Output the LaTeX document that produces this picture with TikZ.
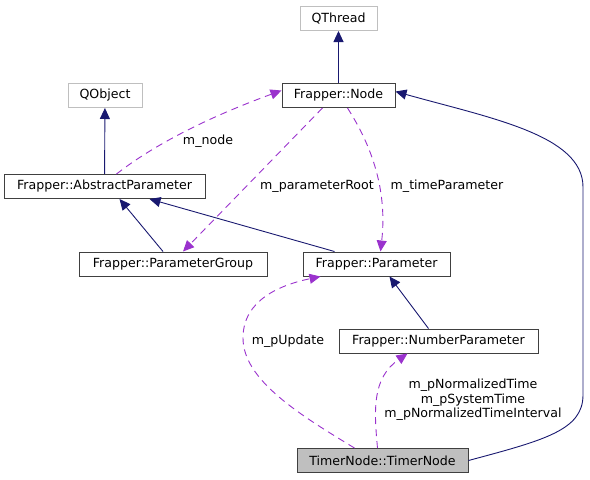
\documentclass[tikz,border=0pt]{standalone}
\usepackage{fontspec}
\setmainfont{DejaVu Sans}
\usepackage{tikz}
\usetikzlibrary{arrows.meta}
\usetikzlibrary{calc}

\definecolor{edgeblue}{HTML}{191970}
\definecolor{usepurple}{HTML}{9A32CD}
\definecolor{extgray}{HTML}{BFBFBF}

\tikzset{
  cls/.style={draw=black!75,line width=1pt,minimum height=24pt,inner sep=2pt,font=\fontsize{12.6}{14}\selectfont},
  ext/.style={cls,draw=extgray},
  inherit/.style={draw=edgeblue,line width=0.9pt,-{Triangle[length=11pt,width=10pt]}},
  uses/.style={draw=usepurple,line width=0.9pt,dash pattern=on 7pt off 5pt,-{Triangle[length=11pt,width=10pt]}},
  lbl/.style={font=\fontsize{12.6}{14}\selectfont,inner sep=1pt}
}

\begin{document}
\begin{tikzpicture}[x=1pt,y=-1pt]
            \useasboundingbox (0,0) rectangle (590,480);

            \node[ext,minimum width=77pt](qthread) at (338.5,18.5){QThread};
            \node[cls,minimum width=113pt](node) at (338.5,95.5){Frapper::Node};
            \node[ext,minimum width=74pt](qobject) at (105,95.5){QObject};
            \node[cls,minimum width=201pt](absparam) at (104.5,186.5){Frapper::AbstractParameter};
            \node[cls,minimum width=188pt](pgroup) at (173,264){Frapper::ParameterGroup};
            \node[cls,minimum width=147pt](param) at (376.5,264){Frapper::Parameter};
            \node[cls,minimum width=199pt](numparam) at (438.5,341){Frapper::NumberParameter};
            \node[cls,fill=extgray,minimum width=171pt](timer) at (382.5,460.5){TimerNode::TimerNode};

            \draw[inherit](node)--(qthread);
            \draw[inherit](absparam)--(qobject);
            \draw[inherit]([xshift=-10pt]pgroup.north)--([xshift=15pt]absparam.south);
            \draw[inherit]([xshift=-42pt]param.north)--([xshift=45pt]absparam.south);
            \draw[inherit]([xshift=-10pt]numparam.north)--([xshift=13pt]param.south);
            \draw[inherit](timer.east)..controls(545,440)and(583,430)..(583,395)
                --(583,187)..controls(583,135)and(490,118)..([yshift=4pt]node.east);

            \draw[uses]([xshift=12pt]absparam.north)..controls(160,140)and(220,113)..([yshift=5pt]node.west);
            \node[lbl] (nodelabel) at (208,141){m\_node};
            \draw[uses]([xshift=-16pt]node.south)--([xshift=10pt]pgroup.north);
            \node[lbl] (rootlabel) at (317,186){m\_parameterRoot};
            \draw[uses]([xshift=9pt]node.south)..controls(368,140)and(388,185)..([xshift=4pt]param.north);
            \node[lbl] (timeparlabel) at (447,186){m\_timeParameter};
            \draw[uses]([xshift=-28pt]timer.north)..controls(300,415)and(243,380)..(243,338)
                ..controls(243,300)and(280,285)..([xshift=-56pt]param.south);
            \node[lbl] (updlabel) at (288,341){m\_pUpdate};
            \draw[uses]([xshift=-5pt]timer.north)..controls(374,410)and(372,378)..([xshift=-31pt]numparam.south);
            \node[lbl,align=center,font=\fontsize{12.6}{14.5}\selectfont] (timelabel) at (473,400)
                {m\_pNormalizedTime\\m\_pSystemTime\\m\_pNormalizedTimeInterval};
        \end{tikzpicture}
\end{document}
